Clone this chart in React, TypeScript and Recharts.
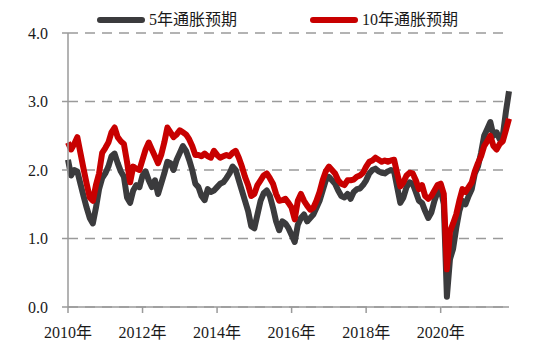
import React from "react";
import { LineChart, Line, XAxis, YAxis, CartesianGrid } from "recharts";

// 月度盈亏平衡通胀率（%），2010-01 至 2021-11
const years = [2010, 2011, 2012, 2013, 2014, 2015, 2016, 2017, 2018, 2019, 2020, 2021];

const fiveYear = [
  // 2010
  2.15, 1.92, 2.0, 1.98, 1.8, 1.62, 1.45, 1.3, 1.22, 1.45, 1.72, 1.88,
  // 2011
  1.95, 2.05, 2.2, 2.24, 2.1, 1.98, 1.9, 1.6, 1.52, 1.7, 1.78, 1.75,
  // 2012
  1.92, 1.98, 1.85, 1.75, 1.85, 1.65, 1.8, 1.95, 2.12, 2.1, 2.0, 2.15,
  // 2013
  2.25, 2.35, 2.28, 2.15, 2.0, 1.8, 1.75, 1.62, 1.56, 1.72, 1.68, 1.7,
  // 2014
  1.75, 1.8, 1.82, 1.88, 1.95, 2.05, 2.0, 1.85, 1.7, 1.55, 1.4, 1.18,
  // 2015
  1.15, 1.35, 1.55, 1.66, 1.7, 1.62, 1.45, 1.25, 1.12, 1.25, 1.22, 1.15,
  // 2016
  1.05, 0.95, 1.2, 1.3, 1.35, 1.25, 1.3, 1.35, 1.45, 1.55, 1.7, 1.85,
  // 2017
  1.9, 1.85, 1.8, 1.7, 1.62, 1.6, 1.65, 1.58, 1.68, 1.72, 1.73, 1.78,
  // 2018
  1.85, 1.95, 2.0, 2.02, 1.98, 1.96, 1.95, 1.98, 2.0, 1.98, 1.75, 1.52,
  // 2019
  1.6, 1.75, 1.82, 1.8, 1.68, 1.55, 1.52, 1.4, 1.3, 1.38, 1.55, 1.68,
  // 2020
  1.72, 1.5, 0.15, 0.7, 0.85, 1.15, 1.4, 1.55, 1.5, 1.62, 1.72, 1.95,
  // 2021
  2.05, 2.25, 2.5, 2.6, 2.7, 2.5, 2.55, 2.45, 2.5, 2.85, 3.15,
];

const tenYear = [
  // 2010
  2.4, 2.3, 2.38, 2.48, 2.25, 2.02, 1.8, 1.6, 1.55, 1.78, 1.95, 2.25,
  // 2011
  2.32, 2.4, 2.55, 2.62, 2.48, 2.42, 2.38, 2.12, 1.82, 2.05, 2.02, 2.0,
  // 2012
  2.15, 2.3, 2.4, 2.3, 2.2, 2.1, 2.22, 2.4, 2.62, 2.55, 2.48, 2.52,
  // 2013
  2.58, 2.55, 2.52, 2.45, 2.35, 2.22, 2.22, 2.2, 2.24, 2.2, 2.18, 2.28,
  // 2014
  2.22, 2.18, 2.2, 2.22, 2.2, 2.25, 2.28, 2.18, 2.05, 1.9, 1.78, 1.62,
  // 2015
  1.65, 1.78, 1.85, 1.92, 1.95, 1.88, 1.8, 1.65, 1.55, 1.56, 1.58, 1.52,
  // 2016
  1.45, 1.28, 1.55, 1.65, 1.55, 1.48, 1.42, 1.45, 1.55, 1.68, 1.85, 1.98,
  // 2017
  2.05, 2.0, 1.95, 1.85, 1.8, 1.78, 1.85, 1.85, 1.86, 1.9, 1.92, 1.96,
  // 2018
  2.05, 2.12, 2.14, 2.18, 2.15, 2.12, 2.14, 2.12, 2.14, 2.15, 1.95, 1.76,
  // 2019
  1.82, 1.92, 1.96, 1.95, 1.85, 1.72, 1.78, 1.62, 1.58, 1.62, 1.7, 1.78,
  // 2020
  1.8, 1.65, 0.55, 1.1, 1.22, 1.35, 1.55, 1.72, 1.68, 1.75, 1.82, 1.98,
  // 2021
  2.1, 2.2, 2.35, 2.42, 2.5, 2.35, 2.3, 2.38, 2.42, 2.58, 2.75,
];

const xTicks = ["2010-01", "2012-01", "2014-01", "2016-01", "2018-01", "2020-01"];
const yTicks = [0, 1, 2, 3, 4];

const months: string[] = years.flatMap((y) =>
  Array.from({ length: 12 }, (_, i) => `${y}-${String(i + 1).padStart(2, "0")}`)
).slice(0, fiveYear.length);

const data = months.map((m, i) => ({
  month: m,
  five: fiveYear[i],
  ten: tenYear[i],
}));

const FONT = '"Liberation Serif", "Noto Sans CJK SC", serif';
const AXIS = "#9a9a9a";
const DARK = "#3b3b3d";
const RED = "#c80000";

function LegendItem({ color, label, left }: { color: string; label: string; left: number }) {
  return (
    <div style={{ position: "absolute", left, top: 10, display: "flex", alignItems: "center" }}>
      <div style={{ width: 48, height: 6, borderRadius: 3, background: color, marginRight: 4 }} />
      <span style={{ fontSize: 16, fontFamily: FONT, color: "#1a1a1a", lineHeight: "20px" }}>
        {label}
      </span>
    </div>
  );
}

export default function App() {
  return (
    <div style={{ position: "absolute", left: 0, top: 0, width: 550, height: 359, background: "#fff" }}>
      <LineChart
        width={550}
        height={359}
        data={data}
        margin={{ top: 33, right: 41, left: 0, bottom: 22 }}
      >
        <CartesianGrid
          vertical={false}
          stroke={AXIS}
          strokeWidth={1.5}
          strokeDasharray="10 7"
        />
        <XAxis
          dataKey="month"
          ticks={xTicks}
          interval={0}
          tickFormatter={(v: string) => `${v.slice(0, 4)}年`}
          stroke={AXIS}
          strokeWidth={1.5}
          tickSize={6}
          tickMargin={14}
          height={30}
          tick={{ fontSize: 16, fontFamily: FONT, fill: "#1a1a1a" }}
        />
        <YAxis
          domain={[0, 4]}
          ticks={yTicks}
          tickFormatter={(v: number) => v.toFixed(1)}
          stroke={AXIS}
          strokeWidth={1.5}
          width={68}
          tickSize={6}
          tickMargin={14}
          tick={{ fontSize: 16, fontFamily: FONT, fill: "#1a1a1a" }}
        />
        <Line
          type="linear"
          dataKey="five"
          stroke={DARK}
          strokeWidth={6}
          strokeLinejoin="round"
          dot={false}
          isAnimationActive={false}
        />
        <Line
          type="linear"
          dataKey="ten"
          stroke={RED}
          strokeWidth={6}
          strokeLinejoin="round"
          dot={false}
          isAnimationActive={false}
        />
      </LineChart>
      <LegendItem color={DARK} label="5年通胀预期" left={97} />
      <LegendItem color={RED} label="10年通胀预期" left={310} />
    </div>
  );
}
